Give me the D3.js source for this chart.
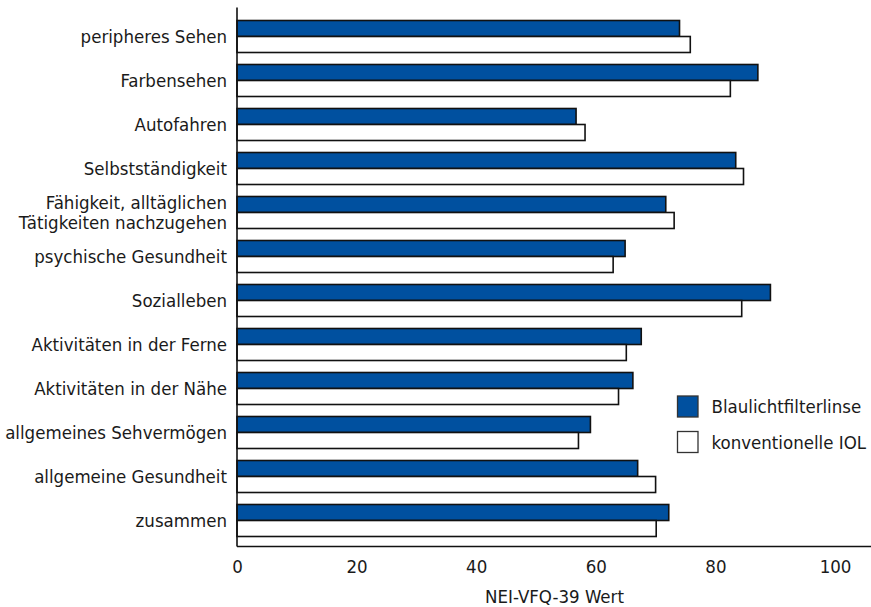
<!DOCTYPE html>
<html>
<head>
<meta charset="utf-8">
<script src="https://cdn.jsdelivr.net/npm/d3@7"></script>
<style>
  html, body { margin: 0; padding: 0; background: #fff; }
  svg { display: block; }
  text { font-family: "DejaVu Sans Condensed", "DejaVu Sans", sans-serif; fill: #1a1a1a; }
</style>
</head>
<body>
<svg id="chart" width="871" height="607"></svg>
<script>
// NEI-VFQ-39 subscale scores, one row per subscale (top to bottom)
const categories = [
  "peripheres Sehen",
  "Farbensehen",
  "Autofahren",
  "Selbstständigkeit",
  "Fähigkeit, alltäglichen\nTätigkeiten nachzugehen",
  "psychische Gesundheit",
  "Sozialleben",
  "Aktivitäten in der Ferne",
  "Aktivitäten in der Nähe",
  "allgemeines Sehvermögen",
  "allgemeine Gesundheit",
  "zusammen"
];
const blueFilterValues   = [74.0, 87.1, 56.7, 83.4, 71.7, 64.9, 89.2, 67.6, 66.2, 59.1, 67.0, 72.2];
const conventionalValues = [75.8, 82.5, 58.2, 84.7, 73.1, 62.9, 84.4, 65.1, 63.8, 57.1, 70.0, 70.1];
const seriesNames = ["Blaulichtfilterlinse", "konventionelle IOL"];
const xTicks = [0, 20, 40, 60, 80, 100];
const xTitle = "NEI-VFQ-39 Wert";

const seriesColors = ["#00509f", "#ffffff"];
const fontSize = 18.5;

const svg = d3.select("#chart");
const W = 871;
const axisY = 546.5;

const x = d3.scaleLinear().domain([0, 100]).range([237, 835]);

const y = d3.scaleBand()
  .domain(categories)
  .range([14.5, 542.5])
  .paddingInner(12 / 44)
  .paddingOuter(6 / 44);

const ySeries = d3.scaleBand()
  .domain(seriesNames)
  .range([0, y.bandwidth()]);

const rows = categories.map((c, i) => ({
  cat: c,
  vals: [
    { s: seriesNames[0], v: blueFilterValues[i], color: seriesColors[0] },
    { s: seriesNames[1], v: conventionalValues[i], color: seriesColors[1] }
  ]
}));

// bars
const groups = svg.append("g").selectAll("g")
  .data(rows)
  .join("g")
  .attr("transform", d => `translate(0,${y(d.cat)})`);

groups.selectAll("rect")
  .data(d => d.vals)
  .join("rect")
  .attr("x", x(0))
  .attr("y", d => ySeries(d.s))
  .attr("width", d => x(d.v) - x(0))
  .attr("height", ySeries.bandwidth())
  .attr("fill", d => d.color)
  .attr("stroke", "#111")
  .attr("stroke-width", 1.6);

// category labels (right-aligned, may span two lines)
const labels = svg.append("g").selectAll("text")
  .data(categories)
  .join("text")
  .attr("text-anchor", "end")
  .attr("font-size", fontSize)
  .attr("x", 227)
  .attr("y", d => y(d) + y.bandwidth() / 2);

labels.each(function (d) {
  const lines = d.split("\n");
  const t = d3.select(this);
  const lh = 19.5;
  const start = -(lines.length - 1) * lh / 2;
  lines.forEach((ln, i) => {
    t.append("tspan")
      .attr("x", 227)
      .attr("dy", i === 0 ? (start + 6.7) : lh)
      .text(ln);
  });
});

// y axis line
svg.append("line")
  .attr("x1", x(0)).attr("x2", x(0))
  .attr("y1", 7.5).attr("y2", axisY)
  .attr("stroke", "#111").attr("stroke-width", 1.6);

// x axis
const xAxis = d3.axisBottom(x).tickValues(xTicks).tickSize(0).tickPadding(0).tickFormat(d3.format("d"));
const gx = svg.append("g").attr("transform", `translate(0,${axisY})`).call(xAxis);
gx.select(".domain").remove();
gx.selectAll("text")
  .attr("font-size", fontSize)
  .attr("font-family", "DejaVu Sans Condensed, DejaVu Sans, sans-serif")
  .attr("fill", "#1a1a1a")
  .attr("dy", null)
  .attr("y", 26);

svg.append("line")
  .attr("x1", x(0)).attr("x2", W)
  .attr("y1", axisY).attr("y2", axisY)
  .attr("stroke", "#111").attr("stroke-width", 1.6);

svg.append("text")
  .attr("x", 554.5)
  .attr("y", 603)
  .attr("text-anchor", "middle")
  .attr("font-size", fontSize)
  .text(xTitle);

// legend
const legend = svg.append("g").attr("transform", "translate(677.5,396)");
const lg = legend.selectAll("g")
  .data(seriesNames)
  .join("g")
  .attr("transform", (d, i) => `translate(0,${i * 35.5})`);
lg.append("rect")
  .attr("width", 20.5).attr("height", 21)
  .attr("fill", (d, i) => seriesColors[i])
  .attr("stroke", "#333").attr("stroke-width", 1.3);
lg.append("text")
  .attr("x", 34)
  .attr("y", 10.5)
  .attr("dy", 6.7)
  .attr("font-size", fontSize)
  .text(d => d);
</script>
</body>
</html>
